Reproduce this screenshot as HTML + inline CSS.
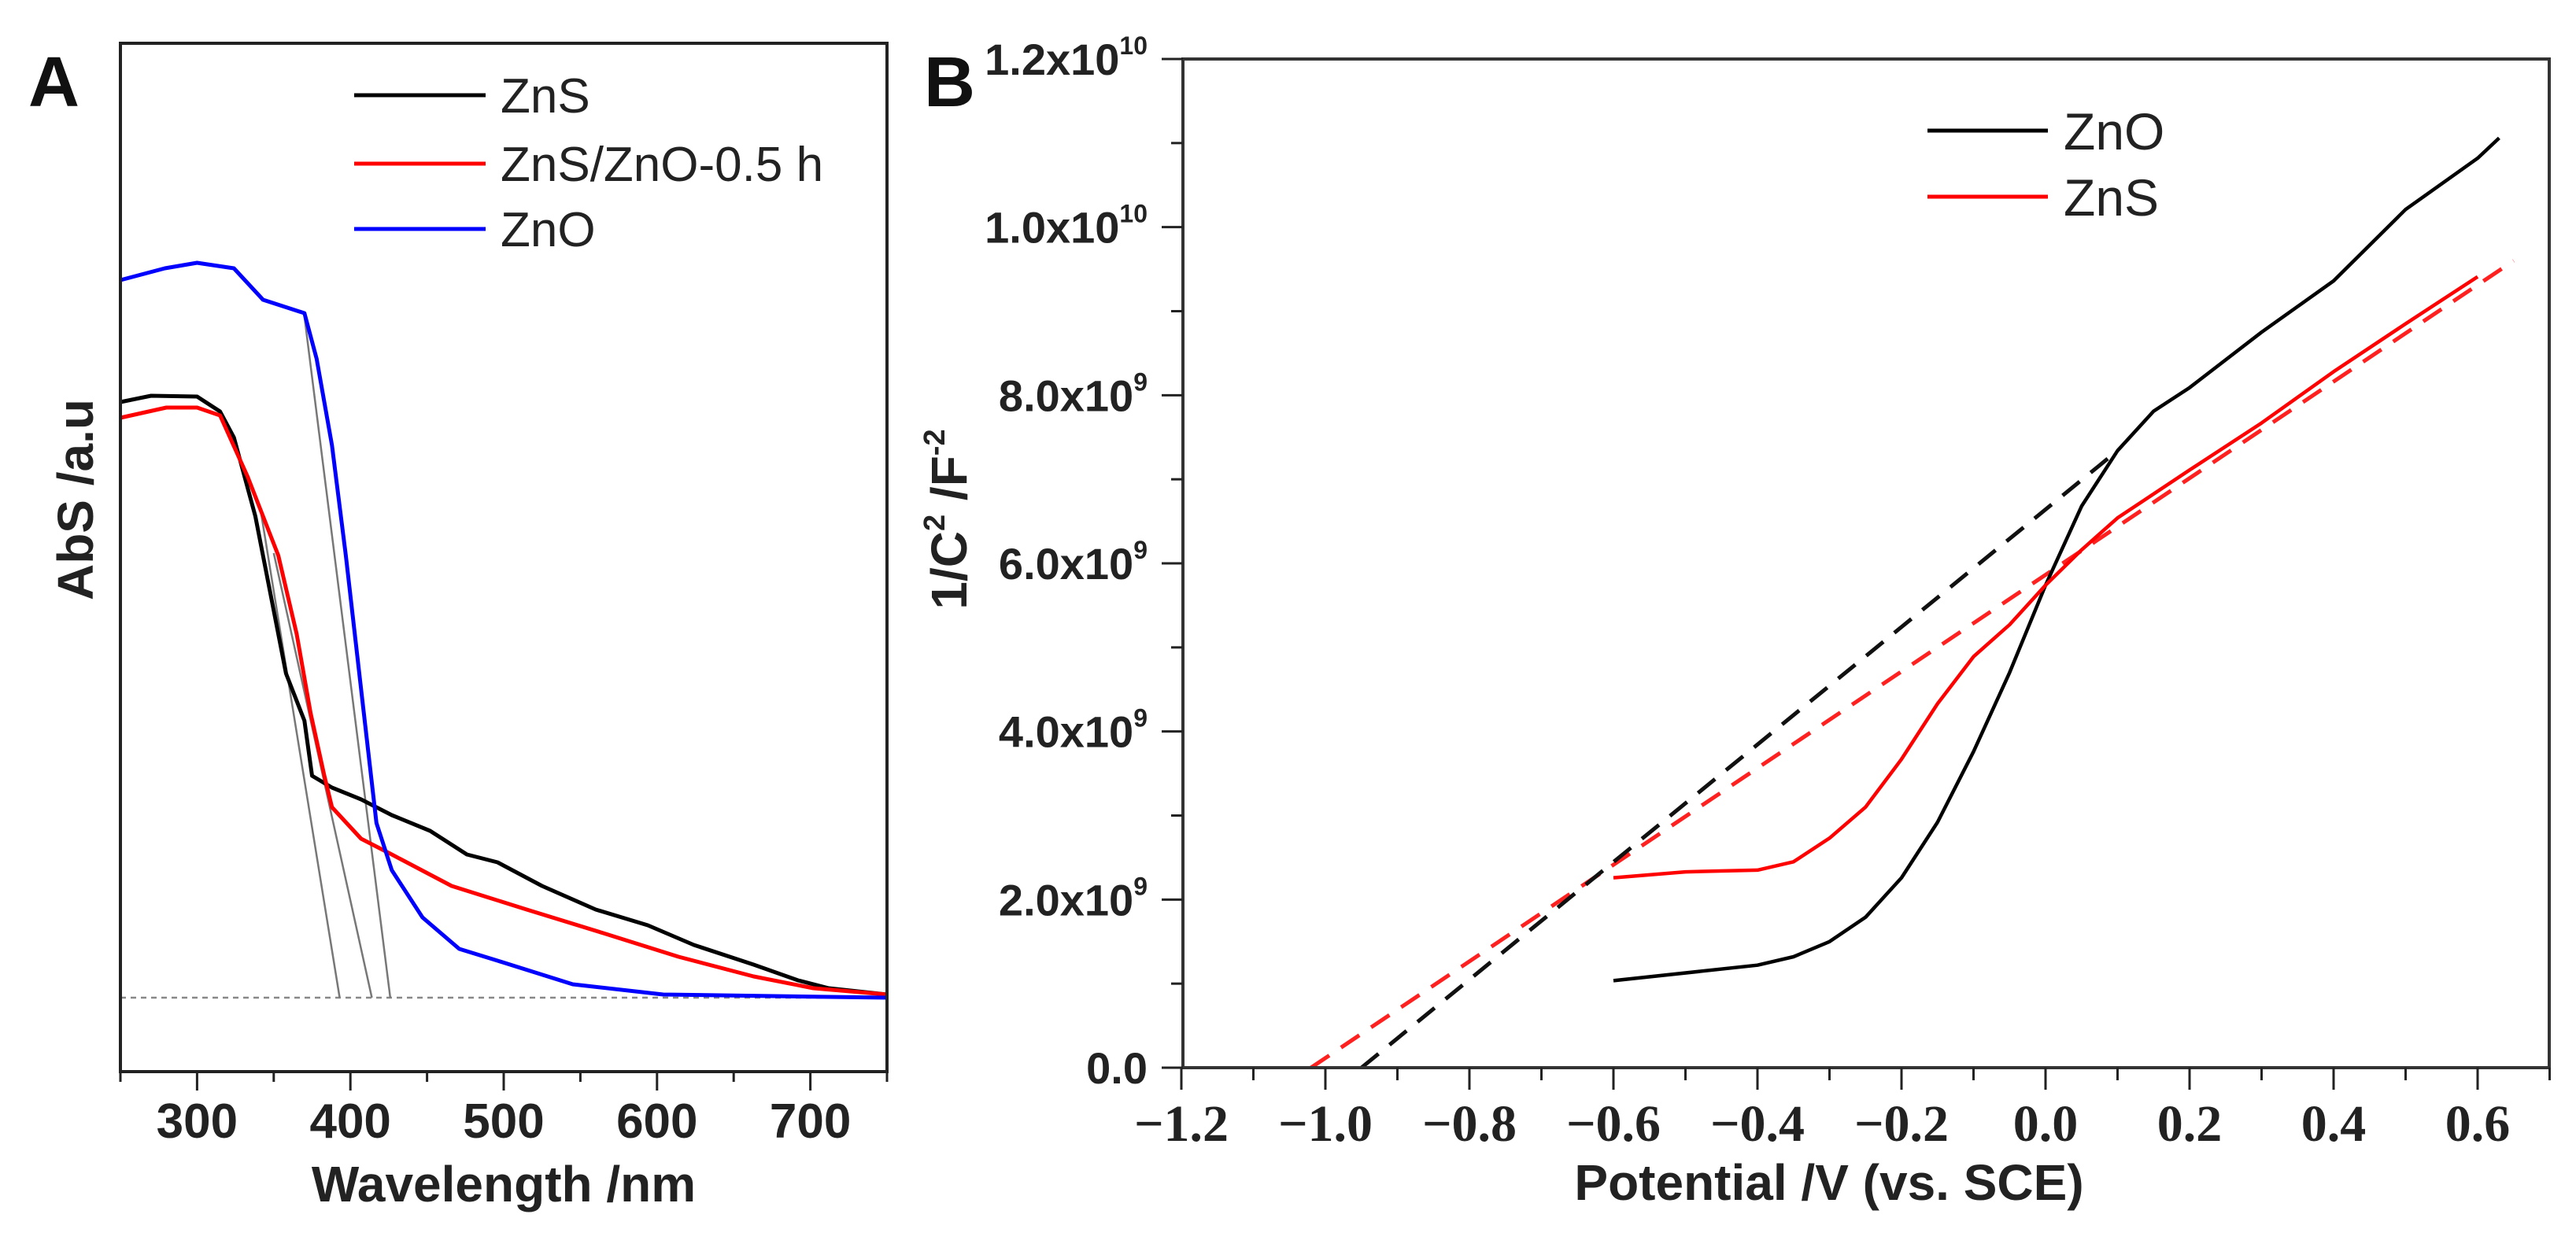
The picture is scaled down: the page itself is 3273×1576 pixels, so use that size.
<!DOCTYPE html>
<html><head><meta charset="utf-8"><style>
html,body{margin:0;padding:0;background:#fff;}
svg{display:block;}
text{font-family:"Liberation Sans",Arial,sans-serif;}
.ser{font-family:"Liberation Serif","Times New Roman",serif;}
</style></head><body>
<svg id="chart" width="3273" height="1576" viewBox="0 0 3273 1576" xmlns="http://www.w3.org/2000/svg">
<g id="panelA"></g>
<g id="panelB"></g>
</svg>
<script>
// ---------- Panel A data ----------
const aXTicks = [300, 400, 500, 600, 700];
const aZnSX = [250,270,300,315,324,338,348,358,370,375,388,407,427,452,476,496,525,560,594,624,663,692,712,750];
const aZnSY = [0.757,0.765,0.764,0.745,0.712,0.612,0.512,0.412,0.352,0.282,0.267,0.252,0.232,0.212,0.182,0.172,0.142,0.112,0.092,0.067,0.042,0.022,0.012,0.004];
const aMixX = [250,280,300,315,333,353,365,374,383,388,407,427,466,515,565,614,663,702,750];
const aMixY = [0.737,0.750,0.750,0.740,0.662,0.562,0.462,0.362,0.282,0.242,0.202,0.182,0.142,0.112,0.082,0.052,0.027,0.012,0.004];
const aZnOX = [250,279,300,324,343,370,378,388,397,407,417,427,447,471,496,545,604,750];
const aZnOY = [0.912,0.927,0.934,0.927,0.887,0.870,0.812,0.702,0.562,0.392,0.222,0.162,0.102,0.062,0.047,0.017,0.004,0.0];
const aTangentX1 = [341, 350, 370];
const aTangentY1 = [0.625, 0.565, 0.866];
const aTangentX2 = [393, 414, 426];
const aTangentY2 = [0, 0, 0];
const aLegend = ["ZnS", "ZnS/ZnO-0.5 h", "ZnO"];

// ---------- Panel B data ----------
const bXTicks = [-1.2,-1.0,-0.8,-0.6,-0.4,-0.2,0.0,0.2,0.4,0.6];
const bXTickLabels = ["\u22121.2","\u22121.0","\u22120.8","\u22120.6","\u22120.4","\u22120.2","0.0","0.2","0.4","0.6"];
const bYTicks = [0, 2e9, 4e9, 6e9, 8e9, 1e10, 1.2e10];
const bYTickMant = ["0.0","2.0x10","4.0x10","6.0x10","8.0x10","1.0x10","1.2x10"];
const bYTickExp = ["","9","9","9","9","10","10"];
const bZnOX = [-0.6,-0.4,-0.35,-0.3,-0.25,-0.2,-0.15,-0.1,-0.05,0,0.05,0.1,0.15,0.2,0.3,0.4,0.5,0.6,0.63];
const bZnOY = [1.035,1.22,1.32,1.5,1.79,2.26,2.92,3.76,4.7,5.74,6.68,7.34,7.81,8.09,8.75,9.36,10.21,10.82,11.06];
const bZnSX = [-0.6,-0.5,-0.4,-0.35,-0.3,-0.25,-0.2,-0.15,-0.1,-0.05,0,0.05,0.1,0.2,0.3,0.4,0.5,0.6];
const bZnSY = [2.26,2.33,2.35,2.45,2.73,3.1,3.67,4.33,4.89,5.27,5.74,6.16,6.54,7.11,7.67,8.28,8.85,9.41];
const bFitZnOX = [-0.95, 0.1];
const bFitZnOY = [0, 7.34];
const bFitZnSX = [-1.02, 0.65];
const bFitZnSY = [0, 9.6];
const bLegend = ["ZnO", "ZnS"];

const NS = "http://www.w3.org/2000/svg";
function mk(parent, tag, attrs, txt) {
  const e = document.createElementNS(NS, tag);
  for (const k in attrs) e.setAttribute(k, attrs[k]);
  if (txt !== undefined) e.textContent = txt;
  parent.appendChild(e);
  return e;
}

// ---------- Panel A ----------
const A = document.getElementById('panelA');
const aL = 153, aR = 1127, aT = 55, aB = 1362;
const ax = v => aL + (v - 250) / 500 * (aR - aL);
const ay = v => 1268 - v * 1000;
function pathA(xs, ys) { return xs.map((x,i)=>(i?'L':'M')+ax(x).toFixed(1)+' '+ay(ys[i]).toFixed(1)).join(' '); }

let e;
e = mk(A,'line',{x1:ax(250),y1:ay(0),x2:ax(750),y2:ay(0),stroke:'#888','stroke-width':2.5,'stroke-dasharray':'7 6'});
 
for (let i=0;i<aTangentX1.length;i++){
  e = mk(A,'line',{x1:ax(aTangentX1[i]),y1:ay(aTangentY1[i]),x2:ax(aTangentX2[i]),y2:ay(aTangentY2[i]),stroke:'#777','stroke-width':2.5});
   
}
e = mk(A,'path',{d:pathA(aZnSX,aZnSY),fill:'none',stroke:'#000','stroke-width':5,'stroke-linejoin':'round'});
 
e = mk(A,'path',{d:pathA(aMixX,aMixY),fill:'none',stroke:'#ff0000','stroke-width':5,'stroke-linejoin':'round'});
 
e = mk(A,'path',{d:pathA(aZnOX,aZnOY),fill:'none',stroke:'#0000ff','stroke-width':5,'stroke-linejoin':'round'});
 

e = mk(A,'rect',{x:aL,y:aT,width:aR-aL,height:aB-aT,fill:'none',stroke:'#222','stroke-width':4});
 
for (let v=250; v<=750; v+=50){
  const major = aXTicks.includes(v);
  e = mk(A,'line',{x1:ax(v),y1:aB,x2:ax(v),y2:aB+(major?24:13),stroke:'#222','stroke-width':3});
   
}
aXTicks.forEach(v=>{
  e = mk(A,'text',{x:ax(v),y:1446,'text-anchor':'middle','font-size':62,'font-weight':'bold',fill:'#222'},String(v));
   
});
e = mk(A,'text',{x:640,y:1527,'text-anchor':'middle','font-size':64,'font-weight':'bold',fill:'#222'},'Wavelength /nm');
 
e = mk(A,'text',{x:0,y:0,transform:'translate(118,635) rotate(-90)','text-anchor':'middle','font-size':64,'font-weight':'bold',fill:'#222'},'AbS /a.u');
 
e = mk(A,'text',{x:36,y:135,'font-size':90,'font-weight':'bold',fill:'#111'},'A');
 
const aLegCol = ['#000','#ff0000','#0000ff'];
const aLegY = [121,208,291];
aLegend.forEach((t,i)=>{
  e = mk(A,'line',{x1:450,y1:aLegY[i],x2:617,y2:aLegY[i],stroke:aLegCol[i],'stroke-width':5});
   
  e = mk(A,'text',{x:636,y:aLegY[i]+22,'font-size':62,fill:'#222'},t);
   
});

// ---------- Panel B ----------
const B = document.getElementById('panelB');
const bL = 1503, bR = 3239, bT = 75, bB = 1357;
const bx = v => 1684 + (v + 1.0) * 915;
const by = v => bB - v / 1.2e10 * (bB - bT);
const byE9 = v => by(v * 1e9);
function pathB(xs, ys) { return xs.map((x,i)=>(i?'L':'M')+bx(x).toFixed(1)+' '+byE9(ys[i]).toFixed(1)).join(' '); }

e = mk(B,'path',{d:pathB(bFitZnSX,bFitZnSY),fill:'none',stroke:'#ff2020','stroke-width':5,'stroke-dasharray':'28 18'});
 
e = mk(B,'path',{d:pathB(bFitZnOX,bFitZnOY),fill:'none',stroke:'#111','stroke-width':5,'stroke-dasharray':'28 18'});
 
e = mk(B,'path',{d:pathB(bZnOX,bZnOY),fill:'none',stroke:'#000','stroke-width':4.5,'stroke-linejoin':'round'});
 
e = mk(B,'path',{d:pathB(bZnSX,bZnSY),fill:'none',stroke:'#ff0000','stroke-width':4.5,'stroke-linejoin':'round'});
 

e = mk(B,'rect',{x:bL,y:bT,width:bR-bL,height:bB-bT,fill:'none',stroke:'#333','stroke-width':4});
 
for (let k=0;k<=19;k++){
  const v = -1.2 + k*0.1;
  const major = k%2===0;
  e = mk(B,'line',{x1:bx(v),y1:bB,x2:bx(v),y2:bB+(major?28:16),stroke:'#222','stroke-width':3});
   
}
bXTicks.forEach((v,i)=>{
  if (i===0) return;
  e = mk(B,'text',{x:bx(v),y:1450,'text-anchor':'middle','font-size':66,'font-weight':'bold',fill:'#222','class':'ser'},bXTickLabels[i]);
   
});
e = mk(B,'text',{x:bx(-1.2),y:1450,'text-anchor':'middle','font-size':66,'font-weight':'bold',fill:'#222','class':'ser'},bXTickLabels[0]);
 
for (let k=0;k<=12;k++){
  const v = k*1e9;
  const major = k%2===0;
  e = mk(B,'line',{x1:bL,y1:by(v),x2:bL-(major?27:15),y2:by(v),stroke:'#222','stroke-width':3});
   
}
bYTicks.forEach((v,i)=>{
  const t = mk(B,'text',{x:1458,y:by(v)+20,'text-anchor':'end','font-size':56,'font-weight':'bold',fill:'#222'});
  
  
  const s1 = mk(t,'tspan',{},bYTickMant[i]);
  if (bYTickExp[i]) mk(t,'tspan',{'font-size':32,dy:-26},bYTickExp[i]);
});
e = mk(B,'text',{x:2324,y:1525,'text-anchor':'middle','font-size':64,'font-weight':'bold',fill:'#222'},'Potential /V (vs. SCE)');
 
const yt = mk(B,'text',{x:0,y:0,transform:'translate(1228,660) rotate(-90)','text-anchor':'middle','font-size':64,'font-weight':'bold',fill:'#222'});


mk(yt,'tspan',{},'1/C');
mk(yt,'tspan',{'font-size':38,dy:-28},'2');
mk(yt,'tspan',{dy:28},' /F');
mk(yt,'tspan',{'font-size':38,dy:-28},'-2');
e = mk(B,'text',{x:1174,y:135,'font-size':90,'font-weight':'bold',fill:'#111'},'B');
 
const bLegCol = ['#000','#ff0000'];
const bLegY = [166,250];
bLegend.forEach((t,i)=>{
  e = mk(B,'line',{x1:2449,y1:bLegY[i],x2:2602,y2:bLegY[i],stroke:bLegCol[i],'stroke-width':5});
   
  e = mk(B,'text',{x:2622,y:bLegY[i]+24,'font-size':66,fill:'#222'},t);
   
});
</script>
</body></html>
